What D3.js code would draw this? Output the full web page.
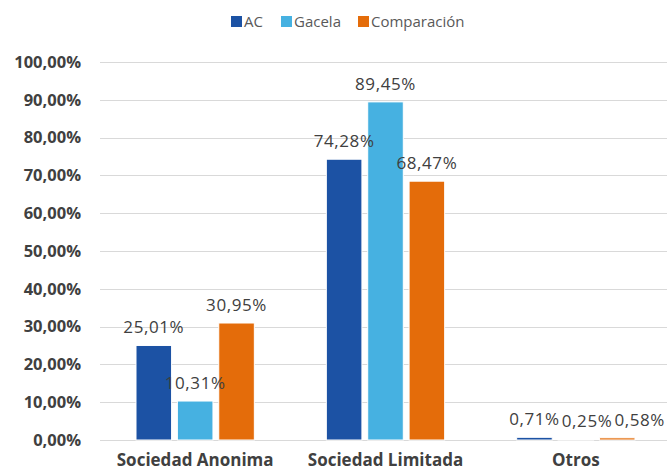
<!DOCTYPE html>
<html lang="es">
<head>
  <meta charset="UTF-8">
  <script src="https://d3js.org/d3.v7.min.js"></script>
  <style>
    body { margin: 0; background: #fff; }
    text { font-family: "Open Sans", "Noto Sans", sans-serif; }
  </style>
</head>
<body>
  <div id="chart"></div>
  <script>
    const categories = ["Sociedad Anonima", "Sociedad Limitada", "Otros"];
    const series = ["AC", "Gacela", "Comparación"];
    const ac = [25.01, 74.28, 0.71];
    const gacela = [10.31, 89.45, 0.25];
    const comparacion = [30.95, 68.47, 0.58];
    const y_ticks = [0, 10, 20, 30, 40, 50, 60, 70, 80, 90, 100];

    const colors = ["#1c52a4", "#46b1e1", "#e46c0a"];
    const width = 667;
    const height = 470;

    const values = [ac, gacela, comparacion];
    const fmt = v => v.toFixed(2).replace(".", ",") + "%";

    const svg = d3.select("#chart")
      .append("svg")
      .attr("width", width)
      .attr("height", height);

    const x = d3.scaleBand()
      .domain(categories)
      .range([100, 671]);

    const x_sub = d3.scaleBand()
      .domain(series)
      .range([36, x.bandwidth() - 36])
      .paddingInner(0.14);

    const y = d3.scaleLinear()
      .domain([0, 100])
      .range([440, 62]);

    // gridlines
    svg.append("g")
      .selectAll("line")
      .data(y_ticks)
      .join("line")
      .attr("x1", 100)
      .attr("x2", width)
      .attr("y1", d => Math.round(y(d)) + 0.5)
      .attr("y2", d => Math.round(y(d)) + 0.5)
      .attr("stroke", "#d9d9d9")
      .attr("stroke-width", 1.2);

    // y axis labels
    const y_axis = svg.append("g")
      .attr("transform", "translate(81,0)")
      .call(d3.axisLeft(y).tickValues(y_ticks).tickFormat(fmt).tickSize(0).tickPadding(0));
    y_axis.select(".domain").remove();
    y_axis.selectAll("text")
      .attr("fill", "#404040")
      .attr("font-size", 16.5)
      .attr("font-weight", "bold");

    // x axis labels
    const x_axis = svg.append("g")
      .attr("transform", "translate(0,440)")
      .call(d3.axisBottom(x).tickSize(0).tickPadding(14));
    x_axis.select(".domain").remove();
    x_axis.selectAll("text")
      .attr("fill", "#404040")
      .attr("font-size", 17)
      .attr("font-weight", "bold");

    // bars
    const rows = series.flatMap((s, si) =>
      categories.map((c, ci) => ({ s, si, c, v: values[si][ci] })));

    svg.append("g")
      .selectAll("rect")
      .data(rows)
      .join("rect")
      .attr("fill", d => colors[d.si])
      .attr("x", d => x(d.c) + x_sub(d.s))
      .attr("y", d => y(d.v))
      .attr("width", x_sub.bandwidth())
      .attr("height", d => y(0) - y(d.v))
      .attr("stroke", "#fff")
      .attr("stroke-width", 1);

    const labels = svg.append("g")
      .selectAll("text")
      .data(rows)
      .join("text")
      .attr("x", d => x(d.c) + x_sub(d.s) + x_sub.bandwidth() / 2)
      .attr("y", d => y(d.v) - 12)
      .attr("text-anchor", "middle")
      .attr("fill", "#404040")
      .attr("font-size", 17)
      .attr("letter-spacing", 0.6)
      .text(d => fmt(d.v));

    // push overlapping labels to the right, like the spreadsheet does
    categories.forEach(c => {
      const group = labels.filter(d => d.c === c).nodes();
      for (let i = 1; i < group.length; i++) {
        const prev = group[i - 1].getBBox();
        const cur = group[i].getBBox();
        const overlapY = Math.abs(prev.y - cur.y) < prev.height;
        const need = prev.x + prev.width + 2 - cur.x;
        if (overlapY && need > 0) {
          group[i].setAttribute("x", +group[i].getAttribute("x") + need);
        }
      }
    });

    // legend
    const legend_x = [231, 281, 358];
    const legend = svg.append("g")
      .selectAll("g")
      .data(series)
      .join("g")
      .attr("transform", (d, i) => `translate(${legend_x[i]},16)`);
    legend.append("rect")
      .attr("width", 11)
      .attr("height", 11)
      .attr("fill", (d, i) => colors[i]);
    legend.append("text")
      .attr("x", 13)
      .attr("y", 10.5)
      .attr("fill", "#595959")
      .attr("font-size", 15)
      .text(d => d);
  </script>
</body>
</html>
